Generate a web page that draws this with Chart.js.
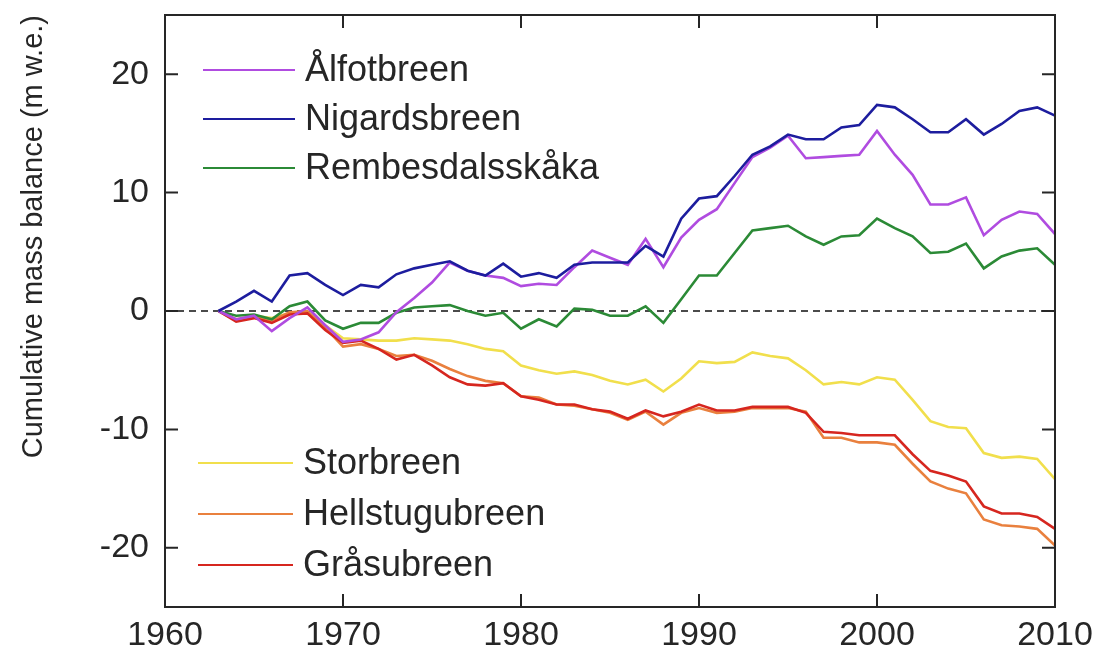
<!DOCTYPE html>
<html>
<head>
<meta charset="utf-8">
<title>Cumulative mass balance</title>
<script src="https://cdn.jsdelivr.net/npm/chart.js@4.4.1/dist/chart.umd.min.js"></script>
<style>
  html, body { margin: 0; padding: 0; background: #fff; }
  #wrap { width: 1099px; height: 655px; }
</style>
</head>
<body>
<div id="wrap"><canvas id="mass-balance"></canvas></div>
<script>
var years = [1963, 1964, 1965, 1966, 1967, 1968, 1969, 1970, 1971, 1972,
  1973, 1974, 1975, 1976, 1977, 1978, 1979, 1980, 1981, 1982,
  1983, 1984, 1985, 1986, 1987, 1988, 1989, 1990, 1991, 1992,
  1993, 1994, 1995, 1996, 1997, 1998, 1999, 2000, 2001, 2002,
  2003, 2004, 2005, 2006, 2007, 2008, 2009, 2010];

// cumulative balance per glacier, m w.e.
var alfotbreen = [0, -0.7, -0.4, -1.7, -0.6, 0.3, -1.2, -2.6, -2.4, -1.8,
  -0.1, 1.1, 2.4, 4.1, 3.4, 3.0, 2.8, 2.1, 2.3, 2.2,
  3.7, 5.1, 4.5, 3.9, 6.1, 3.7, 6.2, 7.7, 8.6, 10.8,
  13.0, 13.8, 14.8, 12.9, 13.0, 13.1, 13.2, 15.2, 13.2, 11.5,
  9.0, 9.0, 9.6, 6.4, 7.7, 8.4, 8.2, 6.5];
var nigardsbreen = [0, 0.8, 1.7, 0.8, 3.0, 3.2, 2.2, 1.35, 2.2, 2.0,
  3.1, 3.6, 3.9, 4.2, 3.4, 3.0, 4.0, 2.9, 3.2, 2.8,
  3.9, 4.1, 4.1, 4.1, 5.5, 4.6, 7.8, 9.5, 9.7, 11.4,
  13.2, 13.9, 14.9, 14.5, 14.5, 15.5, 15.7, 17.4, 17.2, 16.2,
  15.1, 15.1, 16.2, 14.9, 15.8, 16.9, 17.2, 16.5];
var rembesdalsskaka = [0, -0.4, -0.3, -0.7, 0.4, 0.8, -0.8, -1.5, -1.0, -1.0,
  -0.15, 0.3, 0.4, 0.5, 0.0, -0.4, -0.15, -1.5, -0.7, -1.3,
  0.2, 0.1, -0.4, -0.4, 0.4, -1.0, 1.0, 3.0, 3.0, 4.9,
  6.8, 7.0, 7.2, 6.3, 5.6, 6.3, 6.4, 7.8, 7.0, 6.3,
  4.9, 5.0, 5.7, 3.6, 4.6, 5.1, 5.3, 3.9];
var storbreen = [0, -0.7, -0.4, -0.6, -0.2, -0.2, -1.2, -2.3, -2.4, -2.5,
  -2.5, -2.3, -2.4, -2.5, -2.8, -3.2, -3.4, -4.6, -5.0, -5.3,
  -5.1, -5.4, -5.9, -6.2, -5.8, -6.8, -5.7, -4.25, -4.4, -4.3,
  -3.5, -3.8, -4.0, -5.0, -6.2, -6.0, -6.2, -5.6, -5.8, -7.5,
  -9.3, -9.8, -9.9, -12.0, -12.4, -12.3, -12.5, -14.2];
var hellstugubreen = [0, -0.8, -0.5, -0.8, -0.1, 0.0, -1.4, -3.0, -2.8, -3.2,
  -3.8, -3.7, -4.2, -4.9, -5.5, -5.9, -6.1, -7.2, -7.3, -7.9,
  -8.0, -8.3, -8.6, -9.2, -8.5, -9.6, -8.6, -8.2, -8.6, -8.5,
  -8.2, -8.2, -8.2, -8.5, -10.7, -10.7, -11.1, -11.1, -11.3, -12.9,
  -14.4, -15.0, -15.4, -17.6, -18.1, -18.2, -18.4, -19.8];
var grasubreen = [0, -0.9, -0.6, -1.0, -0.3, -0.2, -1.6, -2.7, -2.5, -3.2,
  -4.1, -3.7, -4.6, -5.6, -6.2, -6.3, -6.1, -7.2, -7.5, -7.9,
  -7.9, -8.3, -8.5, -9.1, -8.4, -8.9, -8.5, -7.9, -8.4, -8.4,
  -8.1, -8.1, -8.1, -8.6, -10.2, -10.3, -10.5, -10.5, -10.5, -12.1,
  -13.5, -13.9, -14.4, -16.5, -17.1, -17.1, -17.4, -18.4];

var xTicks = [1960, 1970, 1980, 1990, 2000, 2010];
var yTicks = [-20, -10, 0, 10, 20];

var FONT = '"Liberation Sans", Arial, Helvetica, sans-serif';
var INK = '#262626';

function series(label, values, color, order) {
  return {
    label: label,
    data: years.map(function (y, i) { return { x: y, y: values[i] }; }),
    borderColor: color,
    backgroundColor: color,
    borderWidth: 2.6,
    pointRadius: 0,
    tension: 0,
    order: order
  };
}

// box round the plot, inward ticks, zero line and the two legend blocks
var framePlugin = {
  id: 'frame',
  beforeDatasetsDraw: function (chart) {
    var ctx = chart.ctx, a = chart.chartArea;
    var y0 = chart.scales.y.getPixelForValue(0);
    ctx.save();
    ctx.strokeStyle = '#111';
    ctx.lineWidth = 1.6;
    ctx.setLineDash([7, 5]);
    ctx.beginPath();
    ctx.moveTo(a.left, y0);
    ctx.lineTo(a.right, y0);
    ctx.stroke();
    ctx.restore();
  },
  afterDatasetsDraw: function (chart) {
    var ctx = chart.ctx, a = chart.chartArea;
    var sx = chart.scales.x, sy = chart.scales.y;
    var tick = 13;
    ctx.save();
    ctx.strokeStyle = INK;
    ctx.lineWidth = 2;
    ctx.strokeRect(a.left, a.top, a.right - a.left, a.bottom - a.top);
    ctx.beginPath();
    xTicks.forEach(function (v) {
      var px = sx.getPixelForValue(v);
      ctx.moveTo(px, a.bottom); ctx.lineTo(px, a.bottom - tick);
      ctx.moveTo(px, a.top); ctx.lineTo(px, a.top + tick);
    });
    yTicks.forEach(function (v) {
      var py = sy.getPixelForValue(v);
      ctx.moveTo(a.left, py); ctx.lineTo(a.left + tick, py);
      ctx.moveTo(a.right, py); ctx.lineTo(a.right - tick, py);
    });
    ctx.stroke();

    // legends
    var ds = chart.data.datasets;
    ctx.font = '36px ' + FONT;
    ctx.textBaseline = 'middle';
    ctx.textAlign = 'left';
    ctx.lineWidth = 2;
    function entry(d, x1, x2, y) {
      ctx.strokeStyle = d.borderColor;
      ctx.beginPath();
      ctx.moveTo(x1, y); ctx.lineTo(x2, y);
      ctx.stroke();
      ctx.fillStyle = INK;
      ctx.fillText(d.label, x2 + 10, y + 1);
    }
    [0, 1, 2].forEach(function (i, k) {
      entry(ds[i], a.left + 38, a.left + 130, a.top + 55 + k * 49);
    });
    [3, 4, 5].forEach(function (i, k) {
      entry(ds[i], a.left + 33, a.left + 128, a.bottom - 144 + k * 51);
    });
    ctx.restore();
  }
};

new Chart(document.getElementById('mass-balance'), {
  type: 'line',
  data: {
    datasets: [
      series('Ålfotbreen', alfotbreen, '#b04ce0', 1),
      series('Nigardsbreen', nigardsbreen, '#1d1d9e', 0),
      series('Rembesdalsskåka', rembesdalsskaka, '#2b8a36', 2),
      series('Storbreen', storbreen, '#f1df4c', 5),
      series('Hellstugubreen', hellstugubreen, '#e9803e', 4),
      series('Gråsubreen', grasubreen, '#d6261f', 3)
    ]
  },
  options: {
    responsive: true,
    maintainAspectRatio: false,
    animation: false,
    layout: { padding: { top: 15, right: 44, bottom: 0, left: 0 } },
    plugins: {
      legend: { display: false },
      tooltip: { enabled: false }
    },
    scales: {
      x: {
        type: 'linear',
        min: 1960,
        max: 2010,
        grid: { display: false },
        border: { display: false },
        afterBuildTicks: function (s) { s.ticks = xTicks.map(function (v) { return { value: v }; }); },
        afterFit: function (s) { s.height = 48; s.paddingLeft = 0; s.paddingRight = 0; },
        ticks: {
          padding: 0,
          maxRotation: 0,
          color: INK,
          font: { family: FONT, size: 34 },
          callback: function (v) { return String(v); }
        }
      },
      y: {
        min: -25,
        max: 25,
        grid: { display: false },
        border: { display: false },
        afterBuildTicks: function (s) { s.ticks = yTicks.map(function (v) { return { value: v }; }); },
        afterFit: function (s) { s.width = 165; s.paddingTop = 0; s.paddingBottom = 0; },
        ticks: {
          padding: 8,
          color: INK,
          font: { family: FONT, size: 34 }
        },
        title: {
          display: true,
          text: 'Cumulative mass balance (m w.e.)',
          align: 'end',
          color: INK,
          font: { family: FONT, size: 29 },
          padding: { top: 17, bottom: 0 }
        }
      }
    }
  },
  plugins: [framePlugin]
});
</script>
</body>
</html>
